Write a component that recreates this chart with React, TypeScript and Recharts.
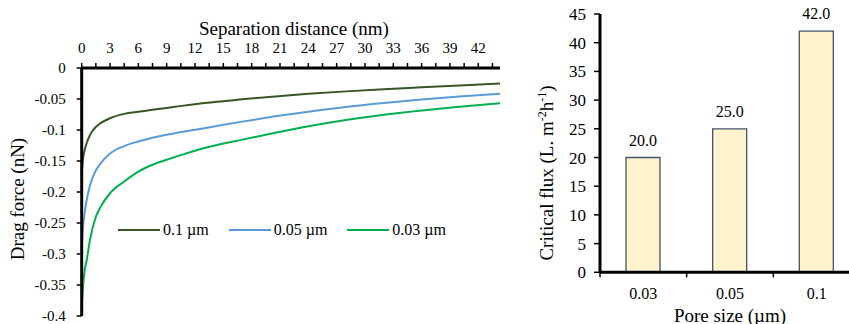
import React from "react";
import {
  LineChart,
  Line,
  XAxis,
  YAxis,
  Legend,
  Label,
  BarChart,
  Bar,
  LabelList,
} from "recharts";

const FONT = '"Liberation Serif", "Times New Roman", serif';

// left panel: drag force vs separation distance, one series per pore size
const seriesNames = ["0.1 µm", "0.05 µm", "0.03 µm"];
const distance = [0, 0.15, 0.3, 0.53, 0.88, 1.5, 2, 3, 4.5, 6, 7.5, 9, 10.4, 13, 17, 20.5, 24, 28, 32, 36, 40, 44.3];
const force01 = [-0.17, -0.145, -0.133, -0.121, -0.108, -0.095, -0.089, -0.081, -0.074, -0.0705, -0.0675, -0.0645, -0.0615, -0.0565, -0.0505, -0.0458, -0.0417, -0.0377, -0.0342, -0.0311, -0.0281, -0.025];
const force005 = [-0.29, -0.255, -0.235, -0.213, -0.189, -0.165, -0.154, -0.138, -0.126, -0.1185, -0.1125, -0.1075, -0.1035, -0.097, -0.0865, -0.078, -0.0705, -0.0628, -0.0565, -0.051, -0.046, -0.0415];
const force003 = [-0.39, -0.35, -0.328, -0.31, -0.277, -0.24, -0.224, -0.202, -0.183, -0.167, -0.156, -0.148, -0.141, -0.129, -0.1155, -0.1045, -0.094, -0.0838, -0.0755, -0.0685, -0.0625, -0.057];

const distanceTicks = [0, 1.5, 3, 4.5, 6, 7.5, 9, 10.5, 12, 13.5, 15, 16.5, 18, 19.5, 21, 22.5, 24, 25.5, 27, 28.5, 30, 31.5, 33, 34.5, 36, 37.5, 39, 40.5, 42, 43.5];
const forceTicks = [0, -0.05, -0.1, -0.15, -0.2, -0.25, -0.3, -0.35, -0.4];

// right panel: critical flux per pore size
const poreSizes = ["0.03", "0.05", "0.1"];
const criticalFlux = [20, 25, 42];
const fluxTicks = [0, 5, 10, 15, 20, 25, 30, 35, 40, 45];

const dragData = distance.map((d, i) => ({
  distance: d,
  s01: force01[i],
  s005: force005[i],
  s003: force003[i],
}));

const fluxData = poreSizes.map((p, i) => ({ pore: p, flux: criticalFlux[i] }));

const AXIS = { stroke: "#000", strokeWidth: 3 };
const TICK_LINE = { stroke: "#000", strokeWidth: 1.5 };

const LineLegend = ({ payload }: { payload?: Array<{ value: string; color: string }> }) => {
  // keep the series order, recharts sorts legend items by name
  const items = [...(payload ?? [])].sort(
    (a, b) => seriesNames.indexOf(a.value) - seriesNames.indexOf(b.value)
  );
  return (
    <div style={{ display: "flex", alignItems: "center", fontSize: 16, fontFamily: FONT, color: "#000" }}>
      {items.map((p) => (
        <div key={p.value} style={{ display: "flex", alignItems: "center", marginRight: 20, whiteSpace: "nowrap" }}>
          <span
            style={{
              display: "inline-block",
              width: 42,
              height: 0,
              borderTop: `2.5px solid ${p.color}`,
              marginRight: 3,
            }}
          />
          <span>{p.value}</span>
        </div>
      ))}
    </div>
  );
};

const SeparationTitle = ({ viewBox }: any) => (
  <text x={viewBox.x + viewBox.width / 2 + 3} y={viewBox.y - 3} textAnchor="middle" fontSize={19} fill="#000">
    Separation distance (nm)
  </text>
);

const DragTitle = ({ viewBox }: any) => {
  const x = viewBox.x + 2.5;
  const y = viewBox.y + 131;
  return (
    <text x={x} y={y} transform={`rotate(-90, ${x}, ${y})`} textAnchor="middle" fontSize={19} fill="#000">
      Drag force (nN)
    </text>
  );
};

const FluxTitle = ({ viewBox }: any) => {
  const x = viewBox.x + 13;
  const y = viewBox.y + 159;
  return (
    <text x={x} y={y} transform={`rotate(-90, ${x}, ${y})`} textAnchor="middle" fontSize={19} fill="#000">
      Critical flux (L. m
      <tspan dy={-7} fontSize={12}>-2</tspan>
      <tspan dy={7}>h</tspan>
      <tspan dy={-7} fontSize={12}>-1</tspan>
      <tspan dy={7}>)</tspan>
    </text>
  );
};

const PoreTitle = ({ viewBox }: any) => (
  <text x={viewBox.x + viewBox.width / 2} y={viewBox.y + 50} textAnchor="middle" fontSize={19} fill="#000">
    Pore size (µm)
  </text>
);

// category ticks sit on the boundaries between bars, labels in the middle
const PoreTick = (props: any) => {
  const { x, y, payload } = props;
  const half = payload?.offset ?? 43.3;
  return (
    <g>
      <line x1={x - half} x2={x - half} y1={y - 15} y2={y - 10} stroke="#000" strokeWidth={1.5} />
      <text x={x} y={y} dy="0.71em" textAnchor="middle" fontSize={16} fill="#000">
        {payload.value}
      </text>
    </g>
  );
};

const fmtForce = (v: number) => String(Number(v.toFixed(2)) || 0);

export default function App() {
  return (
    <div
      style={{
        position: "absolute",
        left: 0,
        top: 0,
        width: 849,
        height: 324,
        overflow: "hidden",
        background: "#fff",
        fontFamily: FONT,
      }}
    >
      <div style={{ position: "absolute", left: 0, top: 0 }}>
        <LineChart width={520} height={324} data={dragData} margin={{ top: 38, right: 20, bottom: 8, left: 21.7 }}>
          <XAxis
            type="number"
            dataKey="distance"
            orientation="top"
            height={30}
            domain={[0, 44.3]}
            ticks={distanceTicks}
            interval={0}
            tickFormatter={(v: number) => (v % 3 === 0 ? String(v) : "")}
            tick={{ fill: "#000", fontSize: 15 }}
            tickSize={5}
            tickMargin={10}
            axisLine={AXIS}
            tickLine={TICK_LINE}
          >
            <Label content={SeparationTitle} />
          </XAxis>
          <YAxis
            type="number"
            width={60}
            domain={[-0.4, 0]}
            ticks={forceTicks}
            interval={0}
            tickFormatter={fmtForce}
            tick={{ fill: "#000", fontSize: 15 }}
            tickSize={5}
            tickMargin={11}
            axisLine={AXIS}
            tickLine={TICK_LINE}
          >
            <Label content={DragTitle} />
          </YAxis>
          <Legend
            layout="horizontal"
            verticalAlign="middle"
            align="center"
            content={<LineLegend />}
            wrapperStyle={{ left: 118, top: 221, width: "auto" }}
          />
          <Line type="monotone" dataKey="s01" name={seriesNames[0]} stroke="#375623" strokeWidth={2} dot={false} isAnimationActive={false} />
          <Line type="monotone" dataKey="s005" name={seriesNames[1]} stroke="#5B9BD5" strokeWidth={2} dot={false} isAnimationActive={false} />
          <Line type="monotone" dataKey="s003" name={seriesNames[2]} stroke="#00B050" strokeWidth={2} dot={false} isAnimationActive={false} />
        </LineChart>
      </div>
      <div style={{ position: "absolute", left: 500, top: 0 }}>
        <BarChart width={370} height={324} data={fluxData} margin={{ top: 14, right: 10, bottom: 21.7, left: 40 }}>
          <XAxis
            dataKey="pore"
            height={30}
            tickSize={5}
            tickMargin={10}
            tickLine={false}
            tick={<PoreTick />}
            axisLine={AXIS}
          >
            <Label content={PoreTitle} />
          </XAxis>
          <YAxis
            type="number"
            width={60}
            domain={[0, 45]}
            ticks={fluxTicks}
            interval={0}
            tick={{ fill: "#000", fontSize: 17 }}
            tickSize={6}
            tickMargin={8}
            axisLine={AXIS}
            tickLine={TICK_LINE}
          >
            <Label content={FluxTitle} />
          </YAxis>
          <Bar dataKey="flux" fill="#FFF2CC" stroke="#44546A" strokeWidth={1.3} barSize={34} isAnimationActive={false}>
            <LabelList
              dataKey="flux"
              position="top"
              offset={12}
              fill="#000"
              fontSize={16}
              formatter={(v: any) => Number(v).toFixed(1)}
            />
          </Bar>
        </BarChart>
      </div>
    </div>
  );
}
